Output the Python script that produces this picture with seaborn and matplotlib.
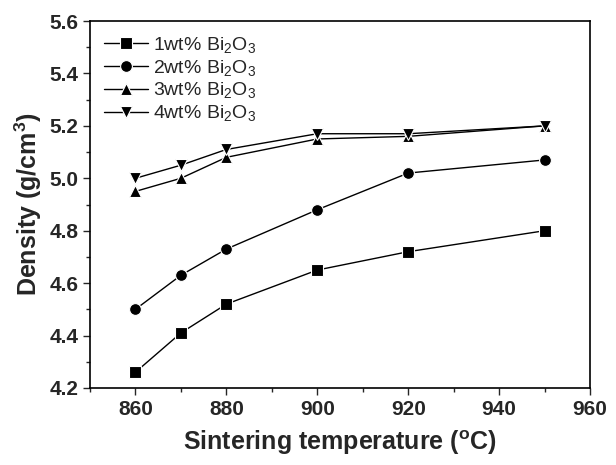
import matplotlib
matplotlib.use("Agg")
import matplotlib.pyplot as plt
import seaborn as sns
import pandas as pd
from matplotlib.ticker import MultipleLocator

temps = [860, 870, 880, 900, 920, 950]
d1 = [4.26, 4.41, 4.52, 4.65, 4.72, 4.80]
d2 = [4.50, 4.63, 4.73, 4.88, 5.02, 5.07]
d3 = [4.95, 5.00, 5.08, 5.15, 5.16, 5.20]
d4 = [5.00, 5.05, 5.11, 5.17, 5.17, 5.20]
labels = ["1wt% Bi$_2$O$_3$", "2wt% Bi$_2$O$_3$", "3wt% Bi$_2$O$_3$", "4wt% Bi$_2$O$_3$"]

rows = []
for lab, vals in zip(labels, [d1, d2, d3, d4]):
    for t, v in zip(temps, vals):
        rows.append({"T": t, "D": v, "S": lab})
df = pd.DataFrame(rows)

sns.set_style("ticks")
plt.rcParams["font.family"] = ["Liberation Sans", "DejaVu Sans"]
plt.rcParams["mathtext.default"] = "regular"

fig = plt.figure(figsize=(6.16, 4.65), dpi=100)
ax = fig.add_axes([0.146, 0.1656, 0.812, 0.7892])

sns.lineplot(data=df, x="T", y="D", style="S", markers=["s", "o", "^", "v"],
             dashes=False, color="black", linewidth=1, markersize=8.5,
             markeredgecolor="white", markeredgewidth=0.8, ax=ax, legend=True)

ax.set_xlim(850, 960)
ax.set_ylim(4.2, 5.6)
ax.xaxis.set_major_locator(MultipleLocator(20))
ax.xaxis.set_minor_locator(MultipleLocator(10))
ax.yaxis.set_major_locator(MultipleLocator(0.2))
ax.yaxis.set_minor_locator(MultipleLocator(0.1))
ax.yaxis.set_major_formatter(matplotlib.ticker.FormatStrFormatter("%.1f"))
ax.tick_params(which="major", direction="out", length=5, width=1, labelsize=15)
ax.tick_params(which="minor", direction="out", length=3, width=1)
for lbl in ax.get_xticklabels() + ax.get_yticklabels():
    lbl.set_fontweight("bold")
for sp in ax.spines.values():
    sp.set_linewidth(1.2)
    sp.set_color("black")

ax.set_xlabel("Sintering temperature ($^{o}$C)", fontsize=18, fontweight="bold", labelpad=7)
ax.set_ylabel("Density (g/cm$^{3}$)", fontsize=18, fontweight="bold", labelpad=4)

leg = ax.legend(loc="upper left", frameon=False, fontsize=14, handlelength=2.3,
                handletextpad=0.25, labelspacing=0.15, borderaxespad=0.3)

fig.savefig("out.png", dpi=100)
